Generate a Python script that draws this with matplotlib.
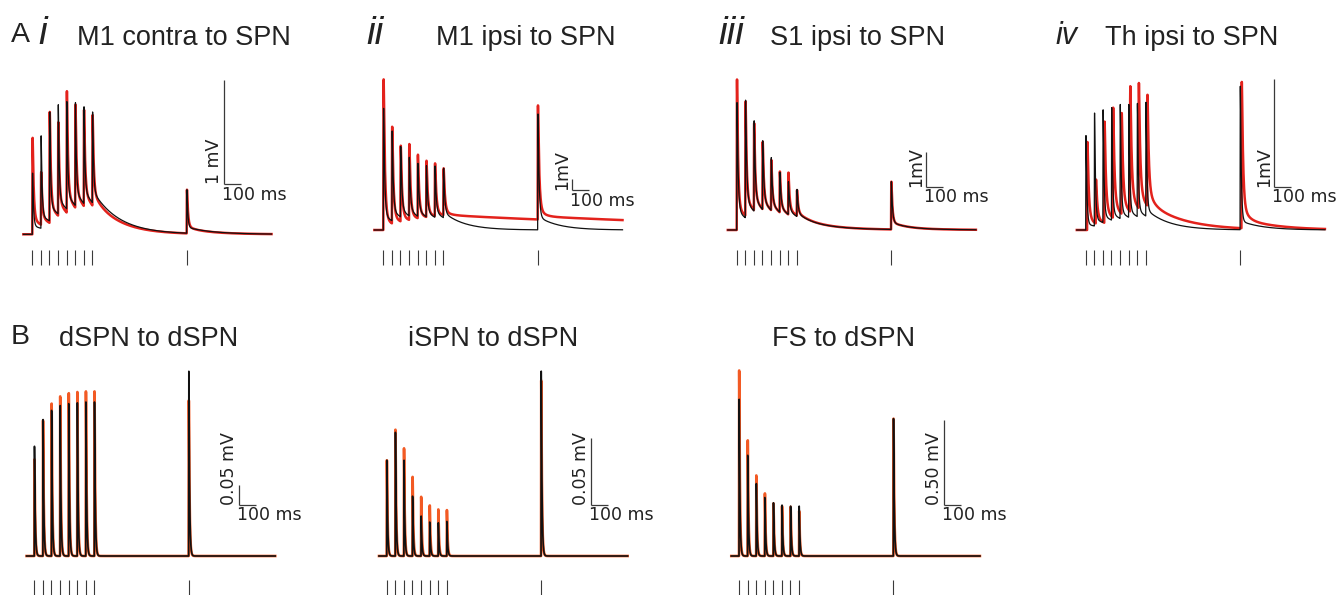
import numpy as np
import matplotlib
matplotlib.use("Agg")
import matplotlib.pyplot as plt
from matplotlib.transforms import offset_copy

# ---------------- data (peak depolarisation, mV, per stimulus) ----------------
STIM_MS = [0, 50, 100, 150, 200, 250, 300, 350, 900]

AI_MODEL = [0.59, 0.95, 1.18, 1.25, 1.28, 1.27, 1.23, 1.18, 0.43]
AI_EXP = [0.93, 0.60, 1.18, 1.08, 1.38, 1.25, 1.20, 1.15, 0.43]
AII_MODEL = [11.06, 9.00, 7.58, 6.61, 6.06, 5.85, 5.82, 5.61, 10.55]
AII_EXP = [13.70, 9.39, 7.67, 7.82, 6.85, 6.30, 6.06, 5.61, 11.33]
AIII_MODEL = [3.64, 3.71, 3.12, 2.55, 2.07, 1.65, 1.38, 1.16, 1.38]
AIII_EXP = [4.30, 3.67, 3.05, 2.52, 2.00, 1.67, 1.64, 1.14, 1.38]
AIV_MODEL = [0.88, 1.09, 1.12, 1.14, 1.17, 1.17, 1.18, 1.19, 1.34]
AIV_EXP = [0.82, 0.47, 1.01, 1.14, 1.09, 1.34, 1.37, 1.26, 1.38]

BI_MODEL = [0.275, 0.342, 0.365, 0.377, 0.382, 0.384, 0.386, 0.386, 0.463]
BI_REF = [0.242, 0.340, 0.382, 0.400, 0.408, 0.411, 0.4125, 0.4125, 0.390]
BII_MODEL = [0.072, 0.093, 0.072, 0.045, 0.030, 0.0255, 0.025, 0.026, 0.139]
BII_REF = [0.072, 0.095, 0.081, 0.0595, 0.0445, 0.038, 0.035, 0.0345, 0.132]
BIII_MODEL = [0.924, 0.594, 0.427, 0.345, 0.314, 0.300, 0.294, 0.294, 0.81]
BIII_REF = [1.094, 0.682, 0.475, 0.369, 0.310, 0.294, 0.290, 0.265, 0.81]

TITLES_A = ["M1 contra to SPN", "M1 ipsi to SPN", "S1 ipsi to SPN", "Th ipsi to SPN"]
NUMERALS_A = ["i", "ii", "iii", "iv"]
TITLES_B = ["dSPN to dSPN", "iSPN to dSPN", "FS to dSPN"]
SCALE_LABELS = ["1 mV", "1mV", "1mV", "1mV", "0.05 mV", "0.05 mV", "0.50 mV"]
SCALE_MV = [1.0, 1.0, 1.0, 1.0, 0.05, 0.05, 0.50]
TIME_LABEL = "100 ms"

# ---------------- figure ----------------
W, H = 1344, 595
fig = plt.figure(figsize=(W / 100, H / 100), dpi=100)
SX = 0.1715  # px per ms

RED = "#E3221C"
ORANGE = "#F25A24"
BLACK = "#111111"
GREY = "#3a3a3a"
TXT = "#222222"


def kernel_factory(tau_r, tau_f, slow):
    ws = sum(w for w, _ in slow)

    def raw(t):
        t = np.atleast_1d(np.asarray(t, float))
        tt = np.clip(t, 0, None)
        k = (1 - ws) * np.exp(-tt / tau_f)
        for w, tau in slow:
            k = k + w * np.exp(-tt / tau)
        k = k * (1 - np.exp(-tt / tau_r))
        k[t < 0] = 0
        return k

    grid = np.arange(0, 60, 0.01)
    kk = raw(grid)
    pk = kk.max()
    tpk = grid[np.argmax(kk)]
    return (lambda t: raw(t) / pk), tpk


def build_trace(t, peaks, params, delay=0.0):
    kn, tpk = kernel_factory(*params)
    amps = []
    for i, (ti, pi) in enumerate(zip(STIM_MS, peaks)):
        resid = 0.0
        for a, tj in zip(amps, STIM_MS[:i]):
            resid += a * kn(ti + tpk - tj)[0]
        amps.append(pi - resid)
    v = np.zeros_like(t)
    for a, tj in zip(amps, STIM_MS):
        v += a * kn(t - tj - delay)
    return v


def panel(x0, y0, sy, tmin, tmax):
    left = x0 + SX * tmin
    width = SX * (tmax - tmin)
    ax = fig.add_axes([left / W, 0, width / W, 1])
    ax.set_xlim(tmin, tmax)
    ax.set_ylim((y0 - H) / sy, y0 / sy)
    ax.axis("off")
    ax.patch.set_visible(False)
    return ax


# panel layout: (x of first stimulus px, baseline px, px per mV, scale corner px x, corner px y)
A_LAYOUT = [
    (32.3, 234.3, 103.7, 224.0, 184.0),
    (383.3, 230.0, 11.0, 571.7, 190.0),
    (736.7, 230.0, 35.0, 925.7, 186.7),
    (1085.7, 230.0, 107.3, 1274.3, 186.7),
]
B_LAYOUT = [
    (34.3, 556.0, 400.0, 239.3, 505.0),
    (386.7, 556.0, 1333.0, 590.7, 505.0),
    (739.0, 556.0, 170.0, 944.3, 505.0),
]

A_MODEL = [AI_MODEL, AII_MODEL, AIII_MODEL, AIV_MODEL]
A_EXP = [AI_EXP, AII_EXP, AIII_EXP, AIV_EXP]
B_MODEL = [BI_MODEL, BII_MODEL, BIII_MODEL]
B_REF = [BI_REF, BII_REF, BIII_REF]

A_MODEL_K = [
    (0.8, 5, [(0.09, 150)]),
    (0.8, 6, [(0.08, 120)]),
    (0.8, 6, [(0.08, 80), (0.03, 200)]),
    (0.8, 5, [(0.04, 130)]),
]
A_EXP_K = [
    (0.8, 6, [(0.04, 40), (0.08, 150)]),
    (0.8, 7, [(0.06, 30), (0.02, 1500)]),
    (0.8, 6, [(0.08, 80), (0.03, 200)]),
    (1.0, 7, [(0.08, 30), (0.045, 200)]),
]
A_EXP_DELAY = [0, 0, 0, 8]
B_K = (0.5, 4, [])


def scale_bar(ax, x0, y0, sy, cx, cy, mv, label):
    tc = (cx - x0) / SX
    vc = (y0 - cy) / sy
    ax.plot([tc, tc], [vc, vc + mv], color=GREY, lw=0.9, clip_on=False,
            solid_capstyle="butt")
    ax.plot([tc, tc + 100], [vc, vc], color=GREY, lw=0.9, clip_on=False,
            solid_capstyle="butt")
    tr = offset_copy(ax.transData, fig=fig, x=-1.0, y=0, units="dots")
    ax.text(tc, vc, label, transform=tr, rotation=90, ha="right", va="bottom",
            fontsize=12.5, family="DejaVu Sans", color=TXT)
    tr2 = offset_copy(ax.transData, fig=fig, x=-2.0, y=-1.5, units="dots")
    ax.text(tc, vc, TIME_LABEL, transform=tr2, ha="left", va="top",
            fontsize=12.5, family="DejaVu Sans", color=TXT)


def stim_ticks(ax, y0, sy, ytop, ybot):
    ax.vlines(STIM_MS, (y0 - ybot) / sy, (y0 - ytop) / sy, color=GREY,
              lw=0.8, clip_on=False)


# ---- row A ----
tA = np.arange(-52, 1395, 0.2)
for i, (x0, y0, sy, cx, cy) in enumerate(A_LAYOUT):
    ax = panel(x0, y0, sy, -52, 1395)
    v_exp = build_trace(tA, A_EXP[i], A_EXP_K[i], A_EXP_DELAY[i])
    v_mod = build_trace(tA, A_MODEL[i], A_MODEL_K[i])
    ax.plot(tA, v_exp, color=RED, lw=1.8, clip_on=False)
    ax.plot(tA, v_mod, color=BLACK, lw=0.9, clip_on=False)
    stim_ticks(ax, y0, sy, 250, 265)
    scale_bar(ax, x0, y0, sy, cx, cy, SCALE_MV[i], SCALE_LABELS[i])

# ---- row B ----
tB = np.arange(-45, 1405, 0.2)
for i, (x0, y0, sy, cx, cy) in enumerate(B_LAYOUT):
    ax = panel(x0, y0, sy, -45, 1405)
    v_ref = build_trace(tB, B_REF[i], B_K)
    v_mod = build_trace(tB, B_MODEL[i], B_K)
    ax.plot(tB, v_ref, color=ORANGE, lw=1.9, clip_on=False)
    ax.plot(tB, v_mod, color=BLACK, lw=1.2, clip_on=False)
    stim_ticks(ax, y0, sy, 580, 595)
    scale_bar(ax, x0, y0, sy, cx, cy, SCALE_MV[4 + i], SCALE_LABELS[4 + i])


# ---- titles ----
def ftext(x, y, s, size, style="normal"):
    fig.text(x / W, 1 - y / H, s, fontsize=size, style=style,
             family="Liberation Sans", color=TXT, ha="left", va="baseline")


ftext(10.5, 42.5, "A", 20.5)
ftext(10.5, 343.5, "B", 20.5)
num_x = [38.5, 366.5, 718.5, 1055.0]
num_size = [28, 28, 28, 22]
title_x = [77.0, 435.5, 770.5, 1105.0]
for i in range(4):
    ftext(num_x[i], 43.5, NUMERALS_A[i], num_size[i], "italic")
    ftext(title_x[i], 45.0, TITLES_A[i], 19.5)
titleB_x = [59.0, 408.0, 772.0]
for i in range(3):
    ftext(titleB_x[i], 345.5, TITLES_B[i], 19.5)

fig.savefig("out.png", dpi=100)
